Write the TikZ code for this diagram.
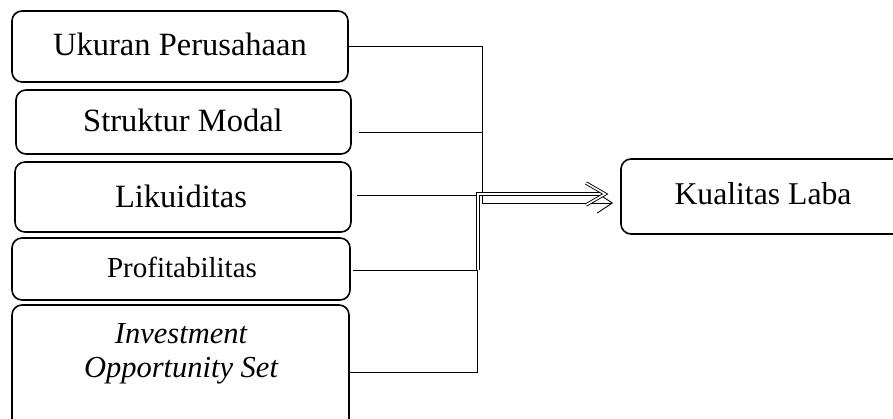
\documentclass[tikz,border=0pt]{standalone}
\usepackage{fontspec}
\setmainfont{Liberation Serif}
\usetikzlibrary{arrows.meta}
\tikzset{
  varbox/.style={draw, line width=1.6pt, rounded corners=10pt, inner sep=0pt},
  conn/.style={line width=0.9pt},
  dconn/.style={line width=0.8pt, double distance=2.2pt},
  lbl/.style={inner sep=0pt, align=center},
}
\begin{document}
\begin{tikzpicture}[x=1pt,y=-1pt]
\useasboundingbox (0,0) rectangle (893,419);
\clip (0,0) rectangle (893,419);
% boxes
\node[varbox, minimum width=336pt, minimum height=71pt] (b1) at (180,46.5) {};
\node[lbl, font=\fontsize{32.5}{38}\selectfont] (t1) at (180,44) {Ukuran Perusahaan};
\node[varbox, minimum width=335pt, minimum height=64pt] (b2) at (183.5,122) {};
\node[lbl, font=\fontsize{32.5}{38}\selectfont] (t2) at (183,120) {Struktur Modal};
\node[varbox, minimum width=336pt, minimum height=70pt] (b3) at (183,197) {};
\node[lbl, font=\fontsize{32.5}{38}\selectfont] (t3) at (181,196) {Likuiditas};
\node[varbox, minimum width=338pt, minimum height=62pt] (b4) at (181,269) {};
\node[lbl, font=\fontsize{29}{34}\selectfont] (t4) at (182,267) {Profitabilitas};
\node[varbox, minimum width=337pt, minimum height=126pt] (b5) at (180.5,368) {};
\node[lbl, font=\fontsize{30.5}{34}\selectfont\itshape] (t5) at (181,354) {Investment\\Opportunity Set};
\node[varbox, minimum width=284pt, minimum height=75pt] (k) at (763,196.5) {};
\node[lbl, font=\fontsize{31.7}{38}\selectfont] (tk) at (763,194) {Kualitas Laba};
% connector points
\coordinate (j1) at (482,203);
\coordinate (s2) at (359,132);
\coordinate (e2) at (482,132);
\coordinate (s3) at (357,195);
\coordinate (e3) at (478,195);
\coordinate (s4) at (353,270);
\coordinate (e4) at (478,270);
\coordinate (s5) at (350,372);
\coordinate (e5) at (477,270);
\coordinate (a1) at (605,194);
\coordinate (a2) at (613,203);
% connectors
\draw[conn] (b1.east) -| (j1);
\draw[conn, -{Straight Barb[length=15pt,width=20pt]}] (j1) -- (a2);
\draw[conn] (s2) -- (e2);
\draw[conn] (s3) -- (e3);
\draw[conn] (s4) -- (e4);
\draw[conn] (s5) -| (e5);
\draw[dconn] (e4) |- ([xshift=-3pt]a1);
\draw[line width=0.9pt, double distance=1.6pt, line join=miter]
  ([xshift=-19pt,yshift=11pt]a1) -- (a1) -- ([xshift=-19pt,yshift=-11pt]a1);
\end{tikzpicture}
\end{document}
